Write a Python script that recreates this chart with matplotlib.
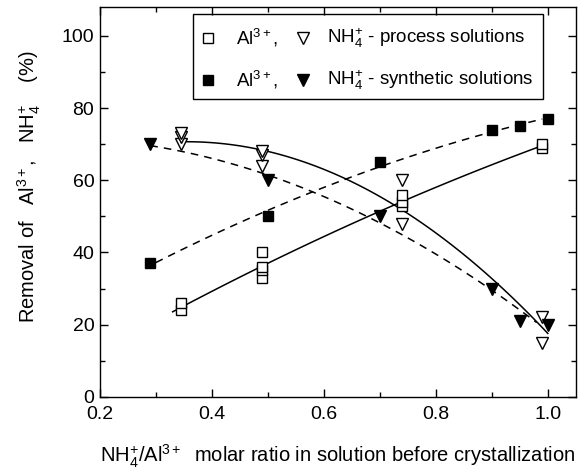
import matplotlib.pyplot as plt
import numpy as np
from matplotlib.patches import Rectangle
from matplotlib.ticker import MultipleLocator

plt.rcParams["font.family"] = ["Liberation Sans", "DejaVu Sans"]
plt.rcParams["mathtext.fontset"] = "custom"
plt.rcParams["mathtext.rm"] = "Liberation Sans"
plt.rcParams["mathtext.it"] = "Liberation Sans"

# process solutions (open markers)
al_proc_x = [0.345, 0.345, 0.49, 0.49, 0.49, 0.49, 0.74, 0.74, 0.74, 0.99, 0.99]
al_proc_y = [24, 26, 33, 35, 36, 40, 53, 54, 56, 69, 70]
nh_proc_x = [0.345, 0.345, 0.345, 0.49, 0.49, 0.49, 0.74, 0.74, 0.99, 0.99]
nh_proc_y = [70, 72, 73, 64, 67, 68, 60, 48, 22, 15]

# synthetic solutions (filled markers)
al_syn_x = [0.29, 0.5, 0.7, 0.9, 0.95, 1.0]
al_syn_y = [37, 50, 65, 74, 75, 77]
nh_syn_x = [0.29, 0.5, 0.7, 0.9, 0.95, 1.0]
nh_syn_y = [70, 60, 50, 30, 21, 20]

# x ranges of the fitted trend lines
al_proc_fit = (0.33, 0.99)
nh_proc_fit = (0.345, 1.0)
al_syn_fit = (0.30, 0.99)
nh_syn_fit = (0.29, 0.98)


def fit_line(ax, x, y, xr, ls):
    coef = np.polyfit(x, y, 2)
    xs = np.linspace(xr[0], xr[1], 100)
    ax.plot(xs, np.polyval(coef, xs), color="black", lw=1.1, ls=ls,
            dashes=(5, 4) if ls == "--" else (None, None), zorder=2)


fig = plt.figure(figsize=(5.84, 4.74), dpi=100)
ax = fig.add_axes([0.171, 0.163, 0.815, 0.822])

fit_line(ax, al_proc_x, al_proc_y, al_proc_fit, "-")
fit_line(ax, nh_proc_x, nh_proc_y, nh_proc_fit, "-")
fit_line(ax, al_syn_x, al_syn_y, al_syn_fit, "--")
fit_line(ax, nh_syn_x, nh_syn_y, nh_syn_fit, "--")

ax.plot(al_proc_x, al_proc_y, "s", ms=7, mfc="white", mec="black", mew=1.0, ls="none", zorder=3)
ax.plot(nh_proc_x, nh_proc_y, "v", ms=8, mfc="white", mec="black", mew=1.0, ls="none", zorder=3)
ax.plot(al_syn_x, al_syn_y, "s", ms=7, mfc="black", mec="black", ls="none", zorder=3)
ax.plot(nh_syn_x, nh_syn_y, "v", ms=8, mfc="black", mec="black", ls="none", zorder=3)

ax.set_xlim(0.2, 1.05)
ax.set_ylim(0, 108)
ax.xaxis.set_minor_locator(MultipleLocator(0.1))
ax.yaxis.set_major_locator(MultipleLocator(20))
ax.yaxis.set_minor_locator(MultipleLocator(10))
ax.set_xticks([0.2, 0.4, 0.6, 0.8, 1.0])
ax.set_xticklabels(["0.2", "0.4", "0.6", "0.8", "1.0"])
ax.tick_params(which="both", direction="in", top=True, right=True, labelsize=14, width=1.0)
ax.tick_params(which="major", length=6, pad=4)
ax.tick_params(axis="x", which="major", pad=7)
ax.tick_params(which="minor", length=3.5)
for s in ax.spines.values():
    s.set_linewidth(1.0)

ax.set_ylabel("Removal of   Al$^{3+}$,   NH$_4^{+}$    (%)", fontsize=14.5)
ax.yaxis.set_label_coords(-0.12, 0.54)
ax.set_xlabel("NH$_4^{+}$/Al$^{3+}$  molar ratio in solution before crystallization",
              fontsize=14.5, labelpad=14)

# legend box drawn by hand
ax.add_patch(Rectangle((0.195, 0.764), 0.735, 0.218, transform=ax.transAxes,
                       fill=False, lw=1.0, ec="black", zorder=5))
rows = [(0.92, "white", "process solutions"), (0.813, "black", "synthetic solutions")]
for y, fc, name in rows:
    ax.plot([0.227], [y], "s", ms=7, mfc=fc, mec="black", transform=ax.transAxes, clip_on=False, zorder=6)
    ax.text(0.286, y, "Al$^{3+}$,", transform=ax.transAxes, fontsize=13.5, va="center")
    ax.plot([0.426], [y], "v", ms=8, mfc=fc, mec="black", transform=ax.transAxes, clip_on=False, zorder=6)
    ax.text(0.478, y, "NH$_4^{+}$ - " + name, transform=ax.transAxes, fontsize=13.5, va="center")

fig.savefig("out.png", dpi=100)
